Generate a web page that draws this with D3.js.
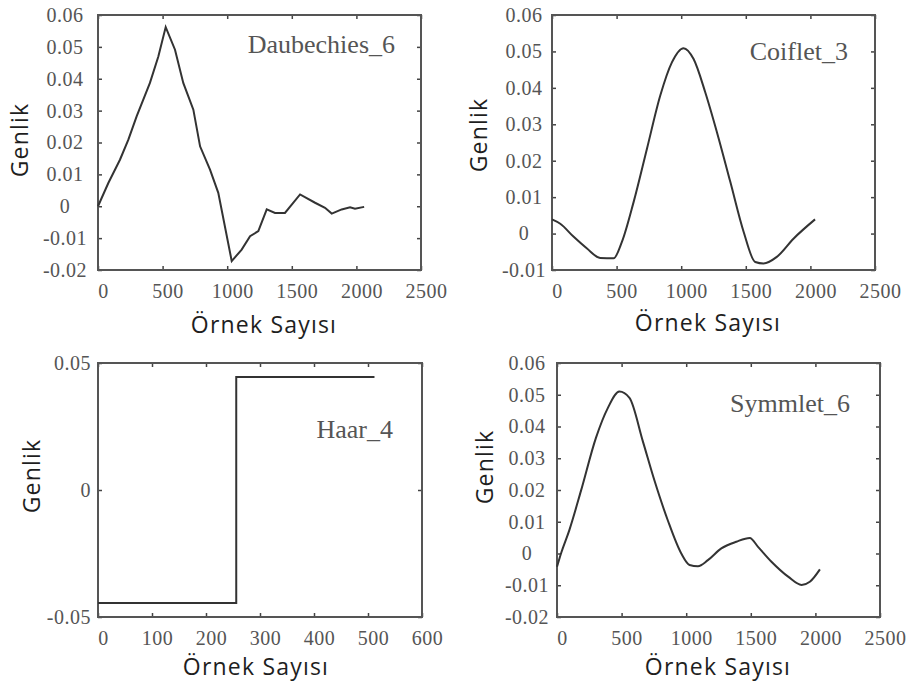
<!DOCTYPE html>
<html>
<head>
<meta charset="utf-8">
<script src="https://cdn.jsdelivr.net/npm/d3@7"></script>
<style>
  body { margin: 0; background: #fff; }
  .lbl { font-family: "Open Sans", sans-serif; font-size: 23px; fill: #1e1e1e; letter-spacing: 1.2px; }
  .ttl { font-family: "Liberation Serif", serif; font-size: 26px; fill: #555; }
  svg text.tk { font-family: "Liberation Serif", "Times New Roman", serif; font-size: 20px; fill: #555; letter-spacing: 0.5px; }
</style>
</head>
<body>
<div id="chart"></div>
<script>
// Daubechies_6 (sample index, amplitude)
const dbX = [0, 80, 170, 235, 299, 402, 467, 524, 596, 660, 738, 790, 867, 931, 1035, 1112, 1177, 1241, 1306, 1370, 1447, 1564, 1680, 1757, 1809, 1886, 1951, 1989, 2060];
const dbY = [0, 0.0073, 0.0146, 0.0209, 0.0282, 0.0387, 0.047, 0.0562, 0.0491, 0.0387, 0.0303, 0.0188, 0.0115, 0.0042, -0.0172, -0.0136, -0.0094, -0.0078, -0.001, -0.0021, -0.0021, 0.0037, 0.0011, -0.0005, -0.0023, -0.001, -0.0003, -0.0008, -0.0002];

// Coiflet_3
const cfX = [0, 64, 168, 271, 373, 477, 541, 632, 735, 838, 928, 1018, 1096, 1186, 1276, 1380, 1483, 1573, 1637, 1740, 1869, 2036];
const cfY = [0.0039, 0.0027, -0.0009, -0.0041, -0.0067, -0.0068, -0.0023, 0.0087, 0.0233, 0.0379, 0.047, 0.0509, 0.0479, 0.0388, 0.0279, 0.0142, 0.0005, -0.0078, -0.0082, -0.0064, -0.0014, 0.0039];

// Haar_4
const haX = [0, 256, 512];
const haY = [-0.0445, 0.0445, 0.0445];

// Symmlet_6
const smX = [0, 31, 95, 186, 302, 393, 483, 561, 664, 755, 858, 962, 1026, 1091, 1168, 1272, 1388, 1492, 1556, 1660, 1789, 1893, 1957, 2035];
const smY = [-0.0042, 0, 0.0073, 0.0198, 0.0365, 0.0458, 0.051, 0.049, 0.0354, 0.0229, 0.0104, 0, -0.0036, -0.004, -0.0021, 0.0016, 0.0037, 0.0049, 0.0021, -0.0026, -0.0073, -0.0099, -0.0089, -0.005];

// tick labels
const ticks2500 = [0, 500, 1000, 1500, 2000, 2500];
const ticks600 = [0, 100, 200, 300, 400, 500, 600];
const ticksY6 = [-0.02, -0.01, 0, 0.01, 0.02, 0.03, 0.04, 0.05, 0.06];
const ticksY6b = [-0.01, 0, 0.01, 0.02, 0.03, 0.04, 0.05, 0.06];
const ticksY5 = [-0.05, 0, 0.05];

const panels = [
  { name: "Daubechies_6", xs: dbX, ys: dbY, xDom: [0, 2500], yDom: [-0.02, 0.06], xt: ticks2500, yt: ticksY6,
    box: [98, 15, 421, 270], curve: d3.curveLinear, yAnchor: "middle", yOff: 33,
    title: [395, 53], ylab: [28, 140], xlab: [264, 333] },
  { name: "Coiflet_3", xs: cfX, ys: cfY, xDom: [0, 2500], yDom: [-0.01, 0.06], xt: ticks2500, yt: ticksY6b,
    box: [552, 15, 875, 270], curve: d3.curveMonotoneX, yAnchor: "middle", yOff: 28,
    title: [848, 60], ylab: [487, 135], xlab: [708, 331] },
  { name: "Haar_4", xs: haX, ys: haY, xDom: [0, 600], yDom: [-0.05, 0.05], xt: ticks600, yt: ticksY5,
    box: [98, 363, 422, 617], curve: d3.curveStepAfter, yAnchor: "end", yOff: 7,
    title: [393, 438], ylab: [40, 476], xlab: [256, 675] },
  { name: "Symmlet_6", xs: smX, ys: smY, xDom: [0, 2500], yDom: [-0.02, 0.06], xt: ticks2500, yt: ticksY6,
    box: [557, 363, 880, 617], curve: d3.curveMonotoneX, yAnchor: "middle", yOff: 30,
    title: [850, 412], ylab: [493, 467], xlab: [718, 675] }
];

const svg = d3.select("#chart").append("svg")
  .attr("width", 921)
  .attr("height", 686);

const fmtY = d => d === 0 ? "0" : d.toFixed(2);
const fmtX = d => String(d);

// serif gray tick labels like the original
function styleTicks(g) {
  g.attr("font-family", "Liberation Serif").attr("font-size", 20);
  g.selectAll(".tick text")
    .attr("class", "tk")
    .attr("font-family", "Liberation Serif");
}

panels.forEach(p => {
  const [l, t, r, b] = p.box;
  const x = d3.scaleLinear().domain(p.xDom).range([l, r]);
  const y = d3.scaleLinear().domain(p.yDom).range([b, t]);

  // inward ticks on all four sides
  const bottom = svg.append("g")
    .attr("transform", `translate(0,${b})`)
    .call(d3.axisBottom(x).tickValues(p.xt).tickFormat(fmtX).tickSizeInner(-4).tickSizeOuter(0).tickPadding(14));
  styleTicks(bottom);
  bottom.selectAll(".tick text").attr("dx", 5);

  const left = svg.append("g")
    .attr("transform", `translate(${l},0)`)
    .call(d3.axisLeft(y).tickValues(p.yt).tickFormat(fmtY).tickSizeInner(-4).tickSizeOuter(0).tickPadding(p.yOff));
  styleTicks(left);
  left.selectAll(".tick text").attr("text-anchor", p.yAnchor);

  svg.append("g")
    .attr("transform", `translate(0,${t})`)
    .call(d3.axisTop(x).tickValues(p.xt).tickSizeInner(-4).tickSizeOuter(0).tickFormat(""));

  svg.append("g")
    .attr("transform", `translate(${r},0)`)
    .call(d3.axisRight(y).tickValues(p.yt).tickSizeInner(-4).tickSizeOuter(0).tickFormat(""));

  svg.selectAll(".domain").remove();
  svg.selectAll(".tick line").attr("stroke", "#444").attr("stroke-width", 1.5);

  // frame
  svg.append("rect")
    .attr("x", l).attr("y", t)
    .attr("width", r - l).attr("height", b - t)
    .attr("fill", "none")
    .attr("stroke", "#555")
    .attr("stroke-width", 2);

  // curve
  const pts = p.xs.map((v, i) => [v, p.ys[i]]);
  const line = d3.line()
    .x(d => x(d[0]))
    .y(d => y(d[1]))
    .curve(p.curve);

  svg.append("path")
    .datum(pts)
    .attr("fill", "none")
    .attr("stroke", "#333")
    .attr("stroke-width", 2)
    .attr("d", line);

  // title inside the plot
  svg.append("text")
    .attr("class", "ttl")
    .attr("x", p.title[0])
    .attr("y", p.title[1])
    .attr("text-anchor", "end")
    .text(p.name);

  // axis labels
  svg.append("text")
    .attr("class", "lbl")
    .attr("transform", `translate(${p.ylab[0]},${p.ylab[1]}) rotate(-90)`)
    .attr("text-anchor", "middle")
    .text("Genlik");

  svg.append("text")
    .attr("class", "lbl")
    .attr("x", p.xlab[0])
    .attr("y", p.xlab[1])
    .attr("text-anchor", "middle")
    .text("Örnek Sayısı");
});
</script>
</body>
</html>
